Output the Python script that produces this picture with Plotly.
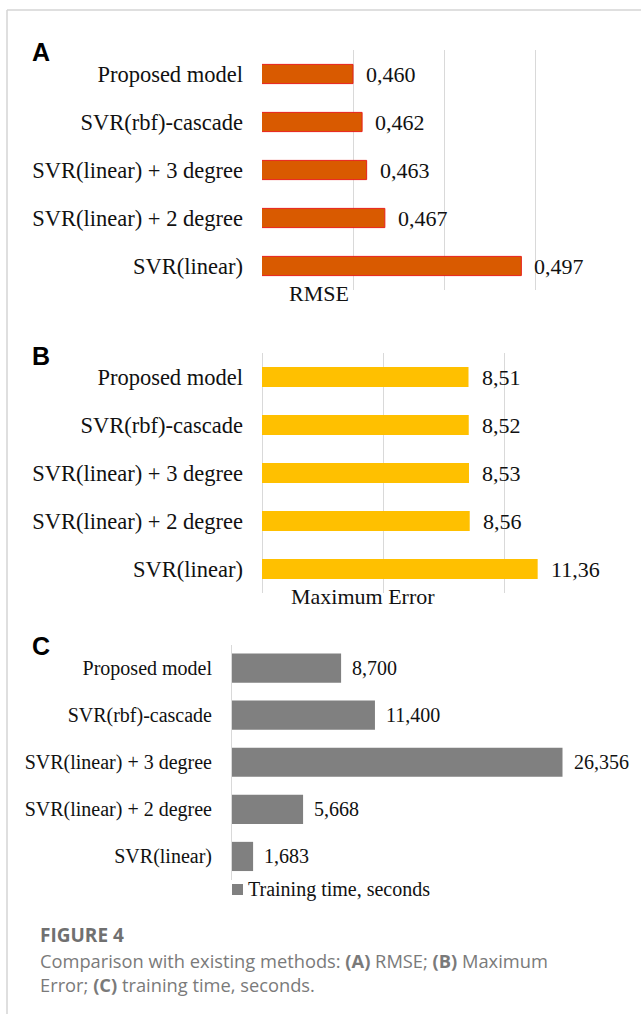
import plotly.graph_objects as go

W, H = 641, 1014

categories = ["Proposed model", "SVR(rbf)-cascade", "SVR(linear) + 3 degree",
              "SVR(linear) + 2 degree", "SVR(linear)"]
rmse = [0.460, 0.462, 0.463, 0.467, 0.497]
max_error = [8.51, 8.52, 8.53, 8.56, 11.36]
train_time = [8.700, 11.400, 26.356, 5.668, 1.683]

rmse_labels = [f"{v:.3f}".replace(".", ",") for v in rmse]
maxerr_labels = [f"{v:.2f}".replace(".", ",") for v in max_error]
time_labels = [f"{v:.3f}".replace(".", ",") for v in train_time]

SERIF = "Liberation Serif, Times New Roman, serif"
SANS = "Liberation Sans, Arial, sans-serif"
CAP = "Open Sans, sans-serif"
TXT = "#111111"
GRID = "#d9d9d9"


def px_x(p):
    return p / W


def px_y(p):
    return 1 - p / H


fig = go.Figure()

fig.add_trace(go.Bar(y=categories, x=rmse, orientation="h", xaxis="x", yaxis="y", width=0.4,
                     marker=dict(color="#d95a00", line=dict(color="#e8201a", width=1)),
                     showlegend=False, hoverinfo="x+y"))
fig.add_trace(go.Bar(y=categories, x=max_error, orientation="h", xaxis="x2", yaxis="y2", width=0.42,
                     marker=dict(color="#ffc000", line=dict(width=0)),
                     showlegend=False, hoverinfo="x+y"))
fig.add_trace(go.Bar(y=categories, x=train_time, orientation="h", xaxis="x3", yaxis="y3", width=0.62,
                     marker=dict(color="#808080", line=dict(width=0)),
                     showlegend=False, hoverinfo="x+y"))

annotations = []
for c, v, t in zip(categories, rmse, rmse_labels):
    annotations.append(dict(x=v, y=c, xref="x", yref="y", text=t, showarrow=False,
                            xanchor="left", yanchor="middle", xshift=11,
                            font=dict(family=SERIF, size=22, color=TXT)))
for c, v, t in zip(categories, max_error, maxerr_labels):
    annotations.append(dict(x=v, y=c, xref="x2", yref="y2", text=t, showarrow=False,
                            xanchor="left", yanchor="middle", xshift=11,
                            font=dict(family=SERIF, size=22, color=TXT)))
for c, v, t in zip(categories, train_time, time_labels):
    annotations.append(dict(x=v, y=c, xref="x3", yref="y3", text=t, showarrow=False,
                            xanchor="left", yanchor="middle", xshift=9,
                            font=dict(family=SERIF, size=20, color=TXT)))

# series names
annotations += [
    dict(x=px_x(319), y=px_y(293), xref="paper", yref="paper", text="RMSE", showarrow=False,
         xanchor="center", yanchor="middle", font=dict(family=SERIF, size=22, color=TXT)),
    dict(x=px_x(363), y=px_y(596), xref="paper", yref="paper", text="Maximum Error", showarrow=False,
         xanchor="center", yanchor="middle", font=dict(family=SERIF, size=22, color=TXT)),
    dict(x=px_x(246), y=px_y(889), xref="paper", yref="paper", text="Training time, seconds",
         showarrow=False, xanchor="left", yanchor="middle", font=dict(family=SERIF, size=20, color=TXT)),
]

# panel letters
for letter, yc in [("A", 52), ("B", 356), ("C", 646)]:
    annotations.append(dict(x=px_x(30), y=px_y(yc), xref="paper", yref="paper", text=f"<b>{letter}</b>",
                            showarrow=False, xanchor="left", yanchor="middle",
                            font=dict(family=SANS, size=25, color="#000000")))

# caption
annotations += [
    dict(x=px_x(38), y=px_y(935), xref="paper", yref="paper", text="<b>FIGURE 4</b>", showarrow=False,
         xanchor="left", yanchor="middle", font=dict(family=CAP, size=19, color="#707070")),
    dict(x=px_x(38), y=px_y(960), xref="paper", yref="paper",
         text="Comparison with existing methods: <b>(A)</b> RMSE; <b>(B)</b> Maximum",
         showarrow=False, xanchor="left", yanchor="middle",
         font=dict(family=CAP, size=18.3, color="#7a7a7a")),
    dict(x=px_x(38), y=px_y(984), xref="paper", yref="paper",
         text="Error; <b>(C)</b> training time, seconds.",
         showarrow=False, xanchor="left", yanchor="middle",
         font=dict(family=CAP, size=18.3, color="#7a7a7a")),
]

shapes = [
    # card frame
    dict(type="line", xref="paper", yref="paper", x0=px_x(7), x1=1.0, y0=px_y(10), y1=px_y(10),
         line=dict(color="#d4d4d4", width=1.5)),
    dict(type="line", xref="paper", yref="paper", x0=px_x(7), x1=px_x(7), y0=px_y(10), y1=0,
         line=dict(color="#d4d4d4", width=1.5)),
    # legend swatch for panel C
    dict(type="rect", xref="paper", yref="paper", x0=px_x(232), x1=px_x(243), y0=px_y(895), y1=px_y(884),
         fillcolor="#808080", line=dict(width=0)),
]

cat_axis = dict(type="category", categoryorder="array", categoryarray=categories,
                range=[4.5, -0.5], ticks="", showgrid=False, zeroline=False, fixedrange=True)

fig.update_layout(
    width=W, height=H, margin=dict(l=0, r=0, t=0, b=0),
    paper_bgcolor="white", plot_bgcolor="white",
    showlegend=False,
    xaxis=dict(domain=[px_x(262), px_x(626)], anchor="y", range=[0.44, 0.52], dtick=0.02, tick0=0.44,
               showticklabels=False, ticks="", showgrid=True, gridcolor=GRID, gridwidth=1,
               zeroline=False, showline=False),
    yaxis=dict(domain=[px_y(290), px_y(50)], anchor="x", showline=False,
               tickfont=dict(family=SERIF, size=22.5, color=TXT), ticklabelstandoff=18, **cat_axis),
    xaxis2=dict(domain=[px_x(262), px_x(626)], anchor="y2", range=[0, 15], dtick=5,
                showticklabels=False, ticks="", showgrid=True, gridcolor=GRID, gridwidth=1,
                zeroline=True, zerolinecolor=GRID, zerolinewidth=1, showline=False),
    yaxis2=dict(domain=[px_y(593), px_y(353)], anchor="x2", showline=False,
                tickfont=dict(family=SERIF, size=22.5, color=TXT), ticklabelstandoff=18, **cat_axis),
    xaxis3=dict(domain=[px_x(232), px_x(626)], anchor="y3", range=[0, 31.42],
                showticklabels=False, ticks="", showgrid=False, zeroline=False, showline=False),
    yaxis3=dict(domain=[px_y(880), px_y(644.5)], anchor="x3", showline=True, linecolor=GRID, linewidth=1,
                tickfont=dict(family=SERIF, size=20, color=TXT), ticklabelstandoff=15, **cat_axis),
    annotations=annotations,
    shapes=shapes,
)

fig.write_html("out.html", config={"displayModeBar": False},
               post_script="document.body.style.margin='0';document.body.style.overflow='hidden';")
